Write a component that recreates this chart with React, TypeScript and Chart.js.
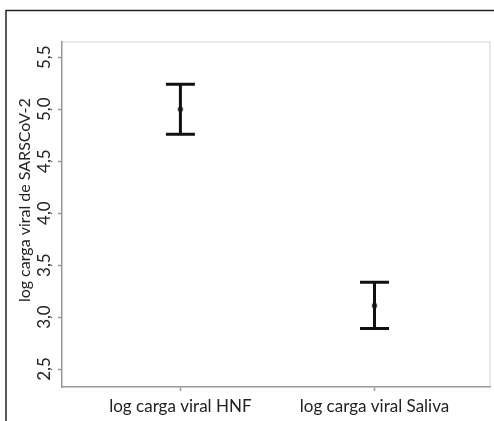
import React, { useEffect, useRef } from "react";
import { Chart, registerables } from "chart.js";

Chart.register(...registerables);

const categories = ["log carga viral HNF", "log carga viral Saliva"];
const means = [5.0, 3.11];
const upper = [5.24, 3.335];
const lower = [4.76, 2.89];
const yTicks = [2.5, 3.0, 3.5, 4.0, 4.5, 5.0, 5.5];
const yTitle = "log carga viral de SARSCoV-2";

const FONT = "Lato, 'Open Sans', sans-serif";
const FS = 17;

const errorBarPlugin = {
  id: "errorBars",
  afterDatasetsDraw(chart: any) {
    const xs = chart.scales.x;
    const ys = chart.scales.y;
    const ctx = chart.ctx;
    ctx.save();
    ctx.strokeStyle = "#111";
    ctx.lineWidth = 3;
    ctx.lineCap = "butt";
    categories.forEach((_, i) => {
      const x = xs.getPixelForValue(i + 1);
      const yt = ys.getPixelForValue(upper[i]);
      const yb = ys.getPixelForValue(lower[i]);
      const hw = 14.5;
      ctx.beginPath();
      ctx.moveTo(x, yt);
      ctx.lineTo(x, yb);
      ctx.moveTo(x - hw, yt);
      ctx.lineTo(x + hw, yt);
      ctx.moveTo(x - hw, yb);
      ctx.lineTo(x + hw, yb);
      ctx.stroke();
    });
    ctx.restore();
  },
};

const framePlugin = {
  id: "frame",
  beforeDraw(chart: any) {
    const ctx = chart.ctx;
    const a = chart.chartArea;
    ctx.save();
    ctx.fillStyle = "#fff";
    ctx.fillRect(0, 0, chart.width, chart.height);
    ctx.strokeStyle = "#222";
    ctx.lineWidth = 1.5;
    ctx.beginPath();
    ctx.moveTo(6, chart.height);
    ctx.lineTo(6, 10.5);
    ctx.lineTo(chart.width, 10.5);
    ctx.stroke();
    ctx.strokeStyle = "#e2e2e2";
    ctx.lineWidth = 1.5;
    ctx.beginPath();
    ctx.moveTo(a.left, a.top);
    ctx.lineTo(a.right, a.top);
    ctx.lineTo(a.right, a.bottom);
    ctx.stroke();
    ctx.restore();
  },
};

export default function App() {
  const ref = useRef<HTMLCanvasElement>(null);
  useEffect(() => {
    const chart = new Chart(ref.current as HTMLCanvasElement, {
      type: "scatter",
      data: {
        datasets: [
          {
            data: means.map((m, i) => ({ x: i + 1, y: m })),
            pointRadius: 2.8,
            pointBackgroundColor: "#555",
            pointBorderColor: "#555",
            pointBorderWidth: 0,
          },
        ],
      },
      options: {
        responsive: false,
        animation: false,
        layout: { padding: { top: 42, left: 0, right: 2, bottom: 0 } },
        plugins: { legend: { display: false }, tooltip: { enabled: false } },
        scales: {
          x: {
            type: "linear",
            min: 0.39,
            max: 2.595,
            afterBuildTicks: (s: any) => {
              s.ticks = categories.map((_, i) => ({ value: i + 1 }));
            },
            afterFit: (s: any) => {
              s.height = 34;
            },
            grid: {
              drawOnChartArea: false,
              drawTicks: true,
              tickLength: 4,
              tickColor: "#999",
              tickWidth: 1.5,
            },
            border: { color: "#999", width: 1.5 },
            ticks: {
              padding: 5,
              color: "#222",
              font: { family: FONT, size: FS },
              maxRotation: 0,
              autoSkip: false,
              callback: (v: any) => categories[Number(v) - 1],
            },
          },
          y: {
            type: "linear",
            min: 2.327,
            max: 5.647,
            afterBuildTicks: (s: any) => {
              s.ticks = yTicks.map((v) => ({ value: v }));
            },
            afterFit: (s: any) => {
              s.width = 62;
            },
            grid: {
              drawOnChartArea: false,
              drawTicks: true,
              tickLength: 4,
              tickColor: "#999",
              tickWidth: 1.5,
            },
            border: { color: "#999", width: 1.5 },
            title: {
              display: true,
              text: "       " + yTitle,
              color: "#222",
              font: { family: FONT, size: 16 },
              padding: { top: 15, bottom: 0 },
            },
            ticks: {
              minRotation: 90,
              maxRotation: 90,
              crossAlign: "center",
              padding: 2,
              color: "#222",
              font: { family: FONT, size: FS },
              autoSkip: false,
              callback: (v: any) => Number(v).toFixed(1).replace(".", ","),
            },
          },
        },
      },
      plugins: [framePlugin, errorBarPlugin],
    } as any);
    return () => chart.destroy();
  }, []);
  return (
    <div style={{ position: "absolute", left: 0, top: 0, width: 494, height: 421, overflow: "hidden" }}>
      <canvas ref={ref} width={494} height={421} style={{ display: "block" }} />
    </div>
  );
}
